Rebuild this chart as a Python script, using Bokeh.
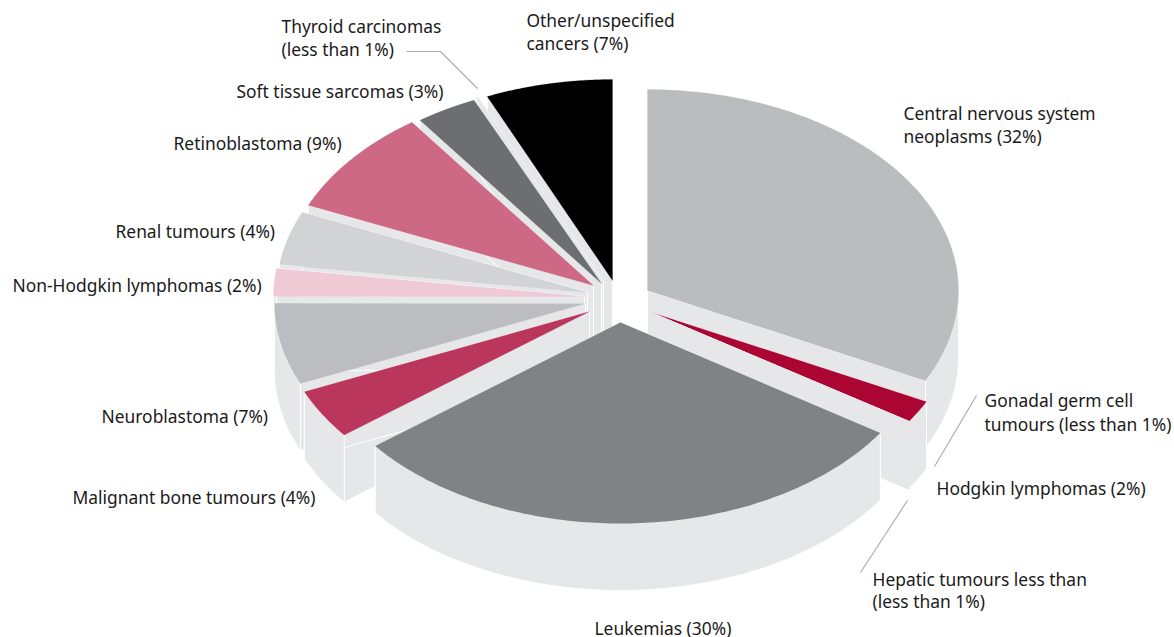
import numpy as np
from bokeh.plotting import figure
from bokeh.models import Range1d, ColumnDataSource
from bokeh.core.properties import value
from bokeh.embed import file_html
from bokeh.resources import INLINE

# data (clockwise from 12 o'clock); shares in percent of the full circle
categories = ["Central nervous system neoplasms", "Hodgkin lymphomas", "Gonadal germ cell tumours",
              "Hepatic tumours", "Leukemias", "Malignant bone tumours", "Neuroblastoma",
              "Non-Hodgkin lymphomas", "Renal tumours", "Retinoblastoma", "Soft tissue sarcomas",
              "Thyroid carcinomas", "Other/unspecified cancers"]
shares = [32.4, 1.8, 0.03, 0.03, 30.2, 4.0, 6.55, 2.22, 4.3, 8.55, 3.2, 0.12, 6.6]

# styling / layout
colors = ["#bbbcbe", "#ab0534", "#e6e7e8", "#e6e7e8", "#808285", "#bb365d", "#bcbdc0",
          "#efc9d4", "#d1d3d4", "#cd6885", "#6d6e71", "#e6e7e8", "#000000"]
apex_x = [647, 648, 648, 648, 620, 589, 585, 584, 587, 593, 601, 603, 612]
apex_y = [290, 311, 311, 311, 322, 311, 303, 296, 292, 285, 283, 281, 280]
RX, RY, DEPTH = 311, 201, 67
WALL = "#e6e7e8"
paint_order = [0, 1, 2, 3, 12, 11, 10, 9, 8, 7, 6, 5, 4]

edges = np.concatenate([[0], np.cumsum(shares)]) * 3.6


def rim(i, deg):
    t = np.radians(deg)
    return apex_x[i] + RX * np.sin(t), apex_y[i] - RY * np.cos(t)


xs, ys, fills, lines, widths = [], [], [], [], []


def add(px, py, fill, line, w):
    xs.append(list(px)); ys.append(list(py)); fills.append(fill); lines.append(line); widths.append(w)


for i in paint_order:
    a0, a1 = edges[i], edges[i + 1]
    lc = "white" if shares[i] >= 0.1 else WALL
    for a in (a0, a1):
        rx, ry = rim(i, a)
        add([apex_x[i], rx, rx, apex_x[i]], [apex_y[i], ry, ry + DEPTH, apex_y[i] + DEPTH], WALL, lc, 1.0)
    lo, hi = max(a0, 90), min(a1, 270)
    if hi > lo:
        th = np.linspace(lo, hi, 80)
        px, py = rim(i, th)
        add(np.r_[px, px[::-1]], np.r_[py, py[::-1] + DEPTH], WALL, lc, 1.0)
    th = np.linspace(a0, a1, 120)
    px, py = rim(i, th)
    add(np.r_[apex_x[i], px], np.r_[apex_y[i], py], colors[i], colors[i], 0.2)

W, H = 1174, 637
p = figure(width=W, height=H, output_backend="svg", toolbar_location=None,
           x_range=Range1d(0, W), y_range=Range1d(H, 0), min_border=0,
           outline_line_color=None, background_fill_color="white", border_fill_color="white")
p.axis.visible = False
p.grid.visible = False

p.patches("x", "y", source=ColumnDataSource(dict(x=xs, y=ys, fill=fills, line=lines, w=widths)),
          fill_color="fill", line_color="line", line_width="w")

leader_x = [[406, 440, 477], [976, 934], [907, 860]]
leader_y = [[51, 51, 88], [395, 466], [500, 572]]
p.multi_line(leader_x, leader_y, line_color="#a7a9ac", line_width=1.1)

label_text = ["Central nervous system", "neoplasms (32%)", "Thyroid carcinomas", "(less than 1%)",
              "Other/unspecified", "cancers (7%)", "Soft tissue sarcomas (3%)", "Retinoblastoma (9%)",
              "Renal tumours (4%)", "Non-Hodgkin lymphomas (2%)", "Neuroblastoma (7%)",
              "Malignant bone tumours (4%)", "Leukemias (30%)", "Hepatic tumours less than",
              "(less than 1%)", "Hodgkin lymphomas (2%)", "Gonadal germ cell", "tumours (less than 1%)"]
label_x = [903, 903, 281, 281, 526, 526, 236, 173, 115, 12, 101, 72, 594, 872, 872, 936, 984, 984]
label_y = [112, 135, 25, 48, 19, 42, 90, 142, 230, 284, 415, 496, 627, 578, 600, 487, 399, 423]
p.text(label_x, label_y, text=label_text, text_font=value("Noto Sans"), text_font_size="17.4px",
       text_color="#1a1a1a", text_baseline="middle", text_align="left")

open("out.html", "w").write(file_html(p, INLINE))
